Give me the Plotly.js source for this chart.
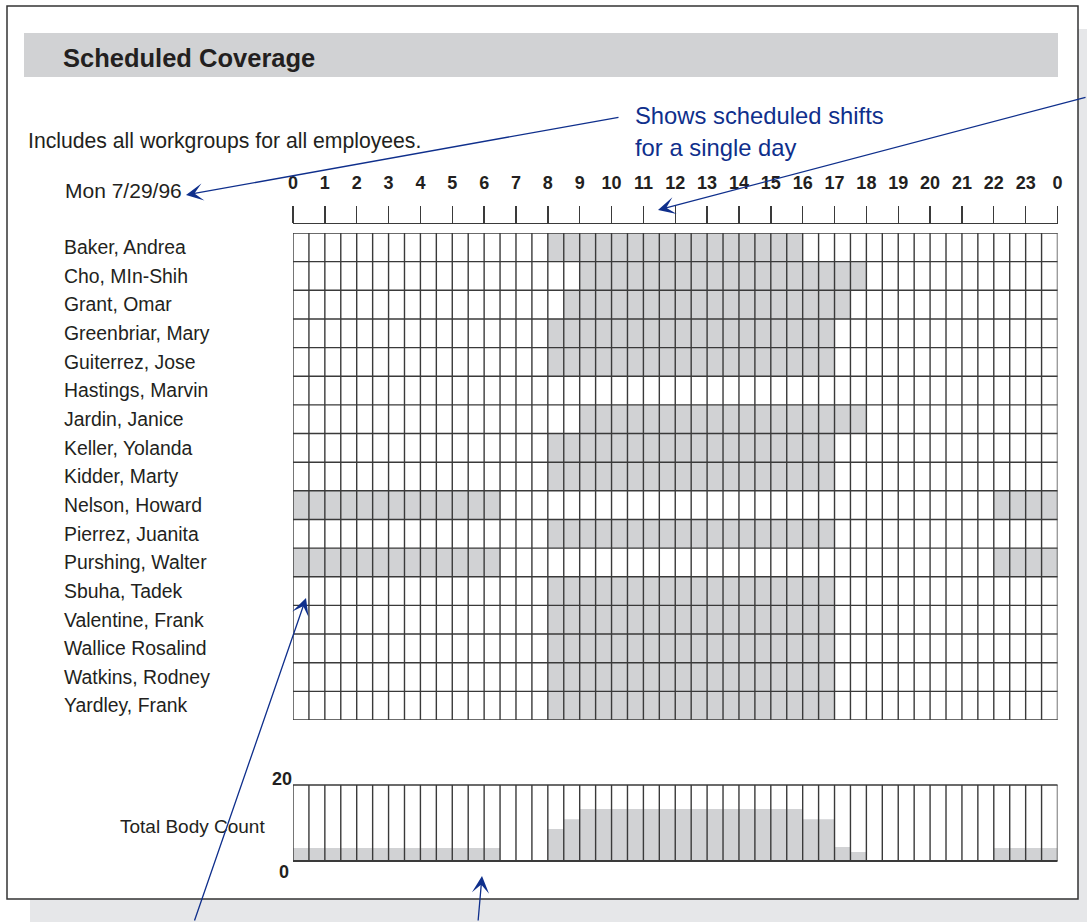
<!DOCTYPE html>
<html>
<head>
<meta charset="utf-8">
<script src="https://cdn.plot.ly/plotly-3.0.1.min.js"></script>
<style>
  html, body { margin: 0; padding: 0; background: #ffffff; }
  #chart { width: 1087px; height: 922px; }
</style>
</head>
<body>
<div id="chart"></div>
<script>
// ---------------- DATA ----------------
const employees = [
  "Baker, Andrea", "Cho, MIn-Shih", "Grant, Omar", "Greenbriar, Mary",
  "Guiterrez, Jose", "Hastings, Marvin", "Jardin, Janice", "Keller, Yolanda",
  "Kidder, Marty", "Nelson, Howard", "Pierrez, Juanita", "Purshing, Walter",
  "Sbuha, Tadek", "Valentine, Frank", "Wallice Rosalind", "Watkins, Rodney",
  "Yardley, Frank"
];
// shift start / end (hour of day); end < start means overnight (wraps midnight)
const shiftStart = [8, 9, 8.5, 8, 8, null, 9, 8, 8, 22, 8, 22, 8, 8, 8, 8, 8];
const shiftEnd   = [16, 18, 17.5, 17, 17, null, 18, 17, 17, 6.5, 17, 6.5, 17, 17, 17, 17, 17];

// hour ruler labels
const hourLabels = ["0","1","2","3","4","5","6","7","8","9","10","11","12",
  "13","14","15","16","17","18","19","20","21","22","23","0"];

// total body count per half-hour slot (as drawn, 0-20 scale)
const bodyCount = [
  3.4, 3.4, 3.4, 3.4, 3.4, 3.4, 3.4, 3.4, 3.4, 3.4, 3.4, 3.4, 3.4,
  0, 0, 0,
  8.4, 11,
  13.7, 13.7, 13.7, 13.7, 13.7, 13.7, 13.7, 13.7, 13.7, 13.7, 13.7, 13.7, 13.7, 13.7,
  11, 11,
  3.7, 2.4,
  0, 0, 0, 0, 0, 0, 0, 0,
  3.4, 3.4, 3.4, 3.4
];
const countTicks = [0, 20];

// ---------------- BUILD ----------------
const W = 1087, H = 922;
const px = v => v / W;
const py = v => 1 - v / H;

const slotsPerHour = 2;
const nSlots = 24 * slotsPerHour;
const slotW = 1 / slotsPerHour;
const slotCenters = Array.from({length: nSlots}, (_, i) => i * slotW + slotW / 2);
const rowIdx = employees.map((_, i) => i);

function onShift(r, t) {
  const s = shiftStart[r], e = shiftEnd[r];
  if (s === null || e === null) return 0;
  if (s < e) return (t >= s && t < e) ? 1 : 0;
  return (t >= s || t < e) ? 1 : 0;
}
const z = rowIdx.map(r => slotCenters.map(c => onShift(r, c)));

const FONT = "Liberation Sans, Arial, Helvetica, sans-serif";
const TXT = "#231f20";
const GRAY = "#d1d2d4";
const LINE = "#3a3a3a";
const BLUE = "#0f2f8c";

const traces = [
  {
    type: "heatmap", x: slotCenters, y: rowIdx, z: z,
    xaxis: "x", yaxis: "y",
    colorscale: [[0, "#ffffff"], [1, GRAY]], zmin: 0, zmax: 1,
    showscale: false, hoverinfo: "skip"
  },
  {
    type: "bar", x: slotCenters, y: bodyCount, width: slotW,
    xaxis: "x2", yaxis: "y2",
    marker: {color: GRAY, line: {width: 0}},
    hoverinfo: "skip", showlegend: false
  },
  { type: "scatter", x: [], y: [], xaxis: "x3", yaxis: "y", hoverinfo: "skip", showlegend: false },
  { type: "scatter", x: [], y: [], xaxis: "x2", yaxis: "y3", hoverinfo: "skip", showlegend: false }
];

const shapes = [];
// shadow & frame
shapes.push({type: "rect", xref: "paper", yref: "paper", x0: px(30), x1: px(1087), y0: py(922), y1: py(29),
  fillcolor: "#e6e7e9", line: {width: 0}, layer: "below"});
shapes.push({type: "rect", xref: "paper", yref: "paper", x0: px(7), x1: px(1078), y0: py(899), y1: py(6),
  fillcolor: "#ffffff", line: {color: "#333333", width: 1.5}, layer: "below"});
// title band
shapes.push({type: "rect", xref: "paper", yref: "paper", x0: px(24), x1: px(1058), y0: py(77), y1: py(33),
  fillcolor: GRAY, line: {width: 0}, layer: "below"});
// main grid lines
for (let i = 0; i <= nSlots; i++) {
  const xv = i * slotW;
  shapes.push({type: "line", xref: "x", yref: "y domain", x0: xv, x1: xv, y0: 0, y1: 1,
    line: {color: LINE, width: 1.4}, layer: "above"});
  shapes.push({type: "line", xref: "x2", yref: "y2 domain", x0: xv, x1: xv, y0: 0, y1: 1,
    line: {color: LINE, width: 1.4}, layer: "above"});
}
for (let k = 0; k <= employees.length; k++) {
  shapes.push({type: "line", xref: "x domain", yref: "y", x0: 0, x1: 1, y0: k - 0.5, y1: k - 0.5,
    line: {color: LINE, width: 1.4}, layer: "above"});
}
shapes.push({type: "line", xref: "x2 domain", yref: "y2 domain", x0: 0, x1: 1, y0: 1, y1: 1,
  line: {color: LINE, width: 1.4}, layer: "above"});
shapes.push({type: "line", xref: "x2 domain", yref: "y2 domain", x0: 0, x1: 1, y0: 0, y1: 0,
  line: {color: LINE, width: 2}, layer: "above"});

function arrow(tipX, tipY, tailX, tailY) {
  return {xref: "paper", yref: "paper", x: px(tipX), y: py(tipY), text: "",
    showarrow: true, ax: tailX - tipX, ay: tailY - tipY, axref: "pixel", ayref: "pixel",
    arrowhead: 3, arrowsize: 2.2, arrowwidth: 1.3, arrowcolor: BLUE, standoff: 0, startstandoff: 0};
}

const annotations = [
  {xref: "paper", yref: "paper", x: px(26), y: py(141), xanchor: "left", yanchor: "middle", showarrow: false,
   text: "Includes all workgroups for all employees.", font: {family: FONT, size: 21.2, color: TXT}},
  {xref: "paper", yref: "paper", x: px(63), y: py(191), xanchor: "left", yanchor: "middle", showarrow: false,
   text: "Mon 7/29/96", font: {family: FONT, size: 21, color: TXT}},
  {xref: "paper", yref: "paper", x: px(118), y: py(826), xanchor: "left", yanchor: "middle", showarrow: false,
   text: "Total Body Count", font: {family: FONT, size: 19, color: TXT}},
  {xref: "paper", yref: "paper", x: px(633), y: py(115), xanchor: "left", yanchor: "middle", showarrow: false,
   text: "Shows scheduled shifts", font: {family: FONT, size: 23.8, color: BLUE}},
  {xref: "paper", yref: "paper", x: px(633), y: py(147), xanchor: "left", yanchor: "middle", showarrow: false,
   text: "for a single day", font: {family: FONT, size: 23.8, color: BLUE}},
  arrow(186, 195, 620, 117),
  arrow(658, 210, 1087, 97),
  arrow(306, 598, 194, 922),
  arrow(482, 876, 478, 922)
];

const layout = {
  width: W, height: H,
  margin: {l: 0, r: 0, t: 0, b: 0, pad: 0},
  paper_bgcolor: "#ffffff", plot_bgcolor: "rgba(0,0,0,0)",
  showlegend: false,
  title: {text: "<b>Scheduled Coverage</b>", xref: "paper", yref: "paper",
    x: px(63), xanchor: "left", y: py(58), yanchor: "middle",
    font: {family: FONT, size: 25.5, color: TXT}},
  xaxis: {domain: [px(293), px(1057.5)], range: [0, 24], anchor: "y",
    showticklabels: false, showgrid: false, zeroline: false, showline: false, ticks: ""},
  yaxis: {domain: [py(720), py(233)], range: [employees.length - 0.5, -0.5],
    anchor: "free", position: px(63), side: "right",
    tickvals: rowIdx, ticktext: employees, ticks: "", showline: false, showgrid: false, zeroline: false,
    tickfont: {family: FONT, size: 19.4, color: TXT}},
  xaxis3: {overlaying: "x", anchor: "free", position: py(223), side: "top", range: [0, 24],
    tickvals: hourLabels.map((_, i) => i), ticktext: hourLabels,
    ticks: "outside", ticklen: 17, tickwidth: 1.4, tickcolor: LINE,
    showline: true, linecolor: LINE, linewidth: 1.4, showgrid: false, zeroline: false,
    ticklabelstandoff: 10,
    tickfont: {family: FONT, size: 18, color: TXT, weight: 700}},
  xaxis2: {domain: [px(293), px(1057.5)], range: [0, 24], anchor: "y2",
    showticklabels: false, showgrid: false, zeroline: false, showline: false, ticks: ""},
  yaxis2: {domain: [py(861), py(785)], range: [0, 20], anchor: "x2",
    tickvals: [countTicks[1]], ticktext: [String(countTicks[1])], ticklabelposition: "outside top",
    ticklabelshift: 6,
    ticks: "", showgrid: false, zeroline: false, showline: false,
    tickfont: {family: FONT, size: 18, color: TXT, weight: 700}},
  yaxis3: {overlaying: "y2", anchor: "x2", side: "left", range: [0, 20],
    tickvals: [countTicks[0]], ticktext: [String(countTicks[0])], ticklabelposition: "outside bottom",
    ticklabelshift: -2, ticklabelstandoff: 3,
    ticks: "", showgrid: false, zeroline: false, showline: false,
    tickfont: {family: FONT, size: 18, color: TXT, weight: 700}},
  shapes: shapes,
  annotations: annotations
};

Plotly.newPlot("chart", traces, layout, {staticPlot: true, displayModeBar: false});
</script>
</body>
</html>
